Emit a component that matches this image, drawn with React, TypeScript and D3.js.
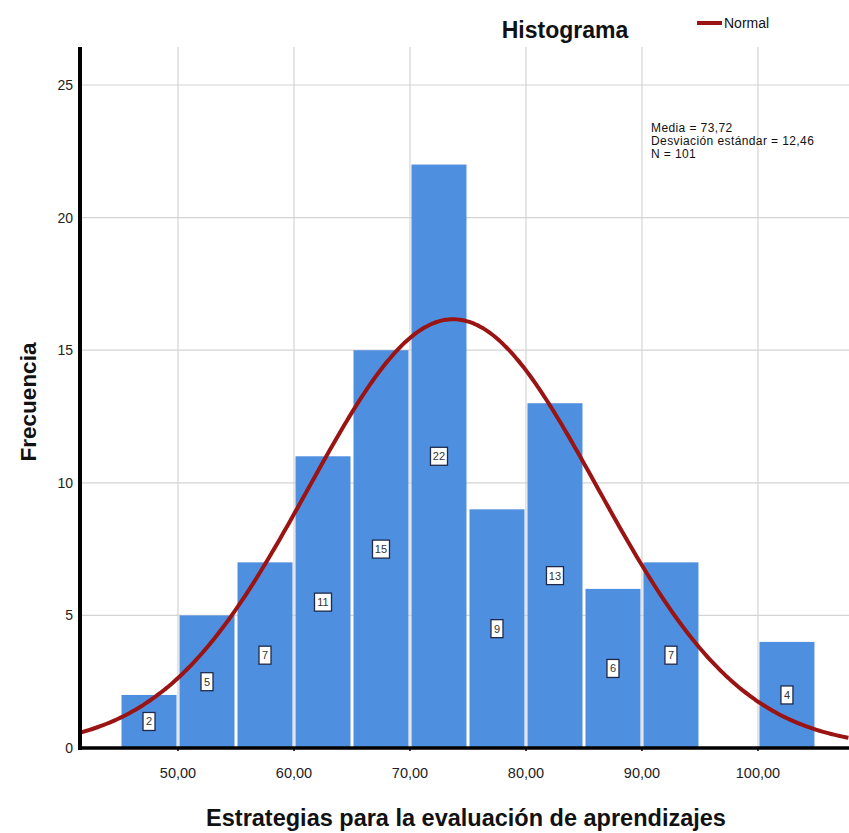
import React from "react";
import * as d3 from "d3";

const binStarts = [45, 50, 55, 60, 65, 70, 75, 80, 85, 90, 95, 100];
const binCounts = [2, 5, 7, 11, 15, 22, 9, 13, 6, 7, 0, 4];
const binWidth = 5;
const xTicks = [50, 60, 70, 80, 90, 100];
const yTicks = [0, 5, 10, 15, 20, 25];
const mean = 73.72;
const sd = 12.46;
const n = 101;
const statsLines = ["Media = 73,72", "Desviación estándar = 12,46", "N = 101"];

const W = 849;
const H = 833;
const left = 80;
const right = 849;
const top = 47;
const bottom = 748;

export default function App() {
  const x = d3.scaleLinear().domain([41.55, 107.85]).range([left, right]);
  const y = d3.scaleLinear().domain([0, 25]).range([bottom, 85]);
  const fmt = (v: number) => v.toFixed(2).replace(".", ",");
  const pdf = (v: number) =>
    (n * binWidth) / (sd * Math.sqrt(2 * Math.PI)) * Math.exp(-0.5 * ((v - mean) / sd) ** 2);
  const pts = d3.range(41.55, 107.86, 0.25).map((v) => [v, pdf(v)] as [number, number]);
  const line = d3
    .line<[number, number]>()
    .x((d) => x(d[0]))
    .y((d) => y(d[1]))
    .curve(d3.curveBasis);
  const font = "'Liberation Sans', Arial, sans-serif";
  return (
    <svg
      width={W}
      height={H}
      style={{ position: "absolute", left: 0, top: 0, background: "#fff" }}
      fontFamily={font}
    >
      {/* grid */}
      {xTicks.map((t) => (
        <line key={"gx" + t} x1={x(t)} x2={x(t)} y1={top} y2={bottom} stroke="#d4d4d4" strokeWidth={1.2} />
      ))}
      {yTicks.filter((t) => t > 0).map((t) => (
        <line key={"gy" + t} x1={left} x2={right} y1={y(t)} y2={y(t)} stroke="#d4d4d4" strokeWidth={1.2} />
      ))}
      {/* bars */}
      {binStarts.map((s, i) =>
        binCounts[i] > 0 ? (
          <rect
            key={"b" + i}
            x={x(s) + 1.5}
            width={x(s + binWidth) - x(s) - 3}
            y={y(binCounts[i])}
            height={y(0) - y(binCounts[i])}
            fill="#4f8fe0"
          />
        ) : null
      )}
      {/* x baseline */}
      <line x1={left} x2={right} y1={bottom} y2={bottom} stroke="#000" strokeWidth={3.5} />
      {xTicks.map((t) => (
        <line key={"tk" + t} x1={x(t)} x2={x(t)} y1={bottom} y2={bottom + 3} stroke="#000" strokeWidth={1.5} />
      ))}
      {/* curve */}
      <path d={line(pts) || ""} fill="none" stroke="#9b1414" strokeWidth={4} />
      {/* count labels */}
      {binStarts.map((s, i) => {
        if (binCounts[i] === 0) return null;
        const cx = x(s + binWidth / 2);
        const cy = y(binCounts[i] / 2);
        const label = String(binCounts[i]);
        const bw = label.length > 1 ? 17 : 12;
        return (
          <g key={"l" + i}>
            <rect x={cx - bw / 2} y={cy - 9} width={bw} height={18} fill="#fff" stroke="#1f2a4a" strokeWidth={1.3} />
            <text x={cx} y={cy + 4} textAnchor="middle" fontSize={11} fill="#333">
              {label}
            </text>
          </g>
        );
      })}
      {/* y axis */}
      <line x1={left} x2={left} y1={top} y2={bottom + 2} stroke="#000" strokeWidth={4} />
      {yTicks.map((t) => (
        <text key={"yt" + t} x={left - 7} y={y(t) + 5} textAnchor="end" fontSize={14} fill="#222">
          {t}
        </text>
      ))}
      {xTicks.map((t) => (
        <text key={"xt" + t} x={x(t)} y={bottom + 30} textAnchor="middle" fontSize={14.5} fill="#222">
          {fmt(t)}
        </text>
      ))}
      {/* titles */}
      <text x={565} y={38} textAnchor="middle" fontSize={23} fontWeight="bold" fill="#111">
        Histograma
      </text>
      <line x1={697} x2={722} y1={23} y2={23} stroke="#9b1414" strokeWidth={4} />
      <text x={724} y={28} fontSize={14} fill="#111">
        Normal
      </text>
      {statsLines.map((s, i) => (
        <text key={"s" + i} x={651} y={132 + i * 13} fontSize={12} letterSpacing={0.4} fill="#111">
          {s}
        </text>
      ))}
      <text
        x={0}
        y={0}
        transform={`translate(36,402) rotate(-90)`}
        textAnchor="middle"
        fontSize={22.5}
        fontWeight="bold"
        fill="#111"
      >
        Frecuencia
      </text>
      <text x={466} y={826} textAnchor="middle" fontSize={23.5} fontWeight="bold" fill="#111">
        Estrategias para la evaluación de aprendizajes
      </text>
    </svg>
  );
}
